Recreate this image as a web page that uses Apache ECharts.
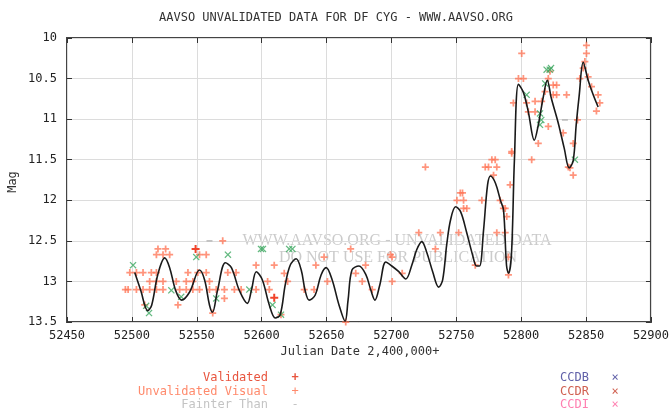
<!DOCTYPE html>
<html>
<head>
<meta charset="utf-8">
<script src="https://cdn.jsdelivr.net/npm/echarts@6/dist/echarts.min.js"></script>
<style>
html,body{margin:0;padding:0;background:#fff;}
#chart{width:672px;height:410px;}
</style>
</head>
<body>
<div id="chart"></div>
<script>
// ---- data ----
const xTicksMin = 52450, xTicksMax = 52900, xTickStep = 50;
const yTicksMin = 10, yTicksMax = 13.5, yTickStep = 0.5;

// fitted light curve (black line): [JD, mag]
const curve = [
 [52502.2,12.89],[52506.8,13.11],[52512.2,13.36],[52515.3,13.29],[52519.9,12.92],[52525.3,12.71],
 [52529.1,12.83],[52533.7,13.11],[52538.3,13.23],[52544.5,13.13],[52552.1,12.86],[52556,12.98],
 [52559.8,13.29],[52562.1,13.38],[52566,13.11],[52572.1,12.77],[52576.7,12.83],[52582.8,13.11],
 [52589,13.27],[52592.1,13.11],[52595.9,12.88],[52600.5,12.98],[52605.9,13.29],[52610.5,13.45],
 [52614.3,13.41],[52618.2,13.04],[52622,12.80],[52626.6,12.72],[52630.5,12.86],[52633.5,13.11],
 [52636.6,13.23],[52641.2,13.17],[52645.8,12.92],[52649.7,12.83],[52654.3,12.98],[52659.6,13.29],
 [52664.3,13.49],[52666.6,13.23],[52669.6,12.86],[52675,12.81],[52680.4,12.92],[52684.2,13.11],
 [52687.3,13.23],[52691.1,13.04],[52695.7,12.76],[52700.3,12.81],[52705.7,12.88],[52711.1,12.97],
 [52715.7,12.80],[52719.5,12.61],[52723.4,12.51],[52727.2,12.64],[52731.8,12.88],[52736.4,13.07],
 [52739.5,12.98],[52742.6,12.55],[52745.6,12.24],[52749.5,12.08],[52753.3,12.14],[52757.9,12.39],
 [52762.5,12.67],[52765.6,12.81],[52767.9,12.81],[52771,12.37],[52774.1,11.81],[52776.4,11.70],
 [52780.2,11.79],[52784,12.00],[52786.4,12.12],[52788.7,12.80],[52790.2,12.90],[52792.5,12.67],
 [52794.8,11.50],[52797.9,10.57],[52801.7,10.67],[52805.5,10.91],[52810.1,11.26],[52813.2,11.07],
 [52817,10.73],[52820.1,10.52],[52823.2,10.74],[52828.6,11.05],[52833.2,11.36],[52837,11.60],
 [52840.1,11.51],[52842.4,11.07],[52844.7,10.71],[52847.8,10.30],[52851.6,10.52],[52855.5,10.70],
 [52859.3,10.85]
];

// unvalidated visual observations
const visualObs = [
 [52495,13.1],[52497.1,13.1],[52498.4,12.89],[52503.5,12.89],[52508.6,12.89],[52515,12.89],[52518.9,12.89],
 [52503.5,13.1],[52508.6,13.1],[52513.7,13.1],[52518.9,13.1],[52524,13.1],
 [52513.7,13.0],[52518.9,13.0],[52524,13.0],[52534.2,13.0],[52541.9,13.0],[52547,13.0],[52559.8,13.0],
 [52509.9,13.29],[52535.5,13.29],[52562.3,13.39],[52571.3,13.21],
 [52520.1,12.6],[52526,12.6],[52570,12.5],
 [52518.9,12.67],[52524,12.67],[52529.1,12.67],[52552.1,12.67],[52557.3,12.67],
 [52543.2,12.89],[52550.8,12.89],[52557.3,12.89],[52573.9,12.89],[52580.3,12.89],
 [52536.8,13.1],[52541.9,13.1],[52547,13.1],[52552.1,13.1],[52559.8,13.1],[52565,13.1],[52571.3,13.1],
 [52579,13.1],[52584.2,13.1],[52595.7,13.1],[52595.7,12.8],
 [52609.7,12.8],[52604.6,13.0],[52605.9,13.1],[52614.9,13.41],[52617.4,12.9],[52620,13.0],
 [52641.8,12.8],[52648.1,12.7],[52650.7,13.0],[52632.8,13.1],[52640.4,13.1],[52668.6,12.6],
 [52680.1,12.8],[52677.5,13.0],[52685.2,13.1],[52664.8,13.5],[52699.3,12.67],[52700.6,13.0],[52672.5,12.9],
 [52726.2,11.59],[52753.1,11.91],[52754.8,11.91],[52750.5,12.0],[52755.6,12.0],[52755.6,12.1],[52758.1,12.1],
 [52772.3,11.59],[52777.4,11.5],[52780,11.5],[52774.8,11.59],[52781.2,11.59],[52778.7,11.69],[52769.7,12.0],
 [52783.8,12.0],[52786.3,12.1],[52787.7,12.1],[52788.9,12.2],[52781.2,12.4],[52787.7,12.4],[52791.5,11.81],
 [52792.7,11.42],[52790.2,12.7],[52790.2,12.92],[52721.1,12.4],[52737.7,12.4],[52751.8,12.4],[52733.9,12.6],
 [52708.3,12.9],[52700.5,12.7],[52764.6,12.8],
 [52800.4,10.19],[52797.9,10.5],[52801.7,10.5],[52794,10.8],[52804.2,10.8],[52805.5,10.91],[52810.7,10.78],
 [52810.7,10.91],[52815.8,10.78],[52818.4,10.66],[52820.9,10.5],[52822.2,10.41],[52824.7,10.58],[52827.3,10.58],
 [52824.7,10.7],[52827.3,10.7],[52835,10.7],[52820.9,11.09],[52808.1,11.5],[52792.7,11.4],[52813.2,11.3],
 [52832.4,11.17],[52840.1,11.3],[52843.4,11.01],[52836.3,11.59],[52840.1,11.69],[52837.6,11.6],[52845.2,10.5],
 [52847.8,10.37],[52849.1,10.29],[52850.3,10.19],[52850.3,10.09],[52854.2,10.6],[52859.3,10.7],[52860.6,10.8],
 [52858,10.9],[52851.6,10.48]
];

// validated observations
const validatedObs = [[52549.1,12.6],[52609.7,13.2]];

// CCD V observations (green crosses)
const ccdvObs = [
 [52500.9,12.8],[52530.4,13.11],[52513.2,13.39],[52511,13.3],[52549.6,12.7],[52574,12.67],[52538,13.19],
 [52565,13.21],[52590.5,13.1],[52599.5,12.6],[52601,12.6],[52621.2,12.6],[52623.7,12.6],[52608.4,13.29],
 [52614.9,13.41],[52804.2,10.7],[52814.5,10.93],[52815.5,11.01],[52814.5,11.07],[52819.6,10.39],
 [52822,10.39],[52823,10.37],[52818.5,10.56],[52841.4,11.5]
];

// fainter-than observations
const fainterObs = [[52559.8,12.5],[52833.7,11.01]];

// ---- chart ----
const mono = '"DejaVu Sans Mono", "Liberation Mono", monospace';
const plusPath = 'path://M3,0H5V3H8V5H5V8H3V5H0V3H3Z';
const crossPath = 'path://M1,0L4,3L7,0L8,1L5,4L8,7L7,8L4,5L1,8L0,7L3,4L0,1Z';

const chart = echarts.init(document.getElementById('chart'), null, {renderer: 'canvas'});
const axisBase = {
  type: 'value',
  axisLine: {show: false},
  axisTick: {show: true, inside: true, length: 5, lineStyle: {color: '#333', width: 1}},
};
const option = {
  animation: false,
  backgroundColor: '#fff',
  grid: {left: 67, top: 38, right: 19, bottom: 88, show: true, borderColor: '#444', borderWidth: 2, backgroundColor: 'transparent'},
  xAxis: [
    Object.assign({}, axisBase, {
      min: xTicksMin, max: xTicksMax, interval: xTickStep, position: 'bottom',
      axisLabel: {fontFamily: mono, fontSize: 12, color: '#222', margin: 8, formatter: v => String(v)},
      splitLine: {show: true, lineStyle: {color: '#dcdcdc', width: 1}}
    }),
    Object.assign({}, axisBase, {
      min: xTicksMin, max: xTicksMax, interval: xTickStep, position: 'top',
      axisLabel: {show: false}, splitLine: {show: false}
    })
  ],
  yAxis: [
    Object.assign({}, axisBase, {
      min: yTicksMin, max: yTicksMax, interval: yTickStep, inverse: true, position: 'left',
      axisLabel: {fontFamily: mono, fontSize: 12, color: '#222', margin: 10, formatter: v => String(v)},
      splitLine: {show: true, lineStyle: {color: '#dcdcdc', width: 1}}
    }),
    Object.assign({}, axisBase, {
      min: yTicksMin, max: yTicksMax, interval: yTickStep, inverse: true, position: 'right',
      axisLabel: {show: false}, splitLine: {show: false}
    })
  ],
  graphic: [
    {type: 'text', left: 'center', top: 12, style: {text: 'AAVSO UNVALIDATED DATA FOR DF CYG - WWW.AAVSO.ORG', font: '12px ' + mono, fill: '#333'}},
    {type: 'text', x: 360, y: 352, style: {text: 'Julian Date 2,400,000+', font: '12px ' + mono, fill: '#333', align: 'center', verticalAlign: 'middle'}},
    {type: 'text', x: 13, y: 182, rotation: Math.PI / 2, style: {text: 'Mag', font: '12px ' + mono, fill: '#333', align: 'center', verticalAlign: 'middle'}},
    {type: 'text', x: 397, y: 241, z: 0, style: {text: 'WWW.AAVSO.ORG - UNVALIDATED DATA', font: '16px "Liberation Serif", serif', fill: 'rgba(160,160,160,0.55)', align: 'center', verticalAlign: 'middle'}},
    {type: 'text', x: 398, y: 258, z: 0, style: {text: 'DO NOT USE FOR PUBLICATION', font: '16px "Liberation Serif", serif', fill: 'rgba(160,160,160,0.55)', align: 'center', verticalAlign: 'middle'}},
    // legend
    {type: 'text', x: 268, y: 378, style: {text: 'Validated', font: '12px ' + mono, fill: '#e8553f', align: 'right', verticalAlign: 'middle'}},
    {type: 'text', x: 295, y: 378, style: {text: '+', font: 'bold 12px ' + mono, fill: '#e8553f', align: 'center', verticalAlign: 'middle'}},
    {type: 'text', x: 268, y: 392, style: {text: 'Unvalidated Visual', font: '12px ' + mono, fill: '#ff8a6c', align: 'right', verticalAlign: 'middle'}},
    {type: 'text', x: 295, y: 392, style: {text: '+', font: '12px ' + mono, fill: '#ff8a6c', align: 'center', verticalAlign: 'middle'}},
    {type: 'text', x: 268, y: 405, style: {text: 'Fainter Than', font: '12px ' + mono, fill: '#c4c4c4', align: 'right', verticalAlign: 'middle'}},
    {type: 'text', x: 295, y: 405, style: {text: '-', font: '12px ' + mono, fill: '#c4c4c4', align: 'center', verticalAlign: 'middle'}},
    {type: 'text', x: 589, y: 378, style: {text: 'CCDB', font: '12px ' + mono, fill: '#6060a8', align: 'right', verticalAlign: 'middle'}},
    {type: 'text', x: 615, y: 378, style: {text: '×', font: '12px ' + mono, fill: '#6060a8', align: 'center', verticalAlign: 'middle'}},
    {type: 'text', x: 589, y: 392, style: {text: 'CCDR', font: '12px ' + mono, fill: '#d06050', align: 'right', verticalAlign: 'middle'}},
    {type: 'text', x: 615, y: 392, style: {text: '×', font: '12px ' + mono, fill: '#d06050', align: 'center', verticalAlign: 'middle'}},
    {type: 'text', x: 589, y: 405, style: {text: 'CCDI', font: '12px ' + mono, fill: '#ff7fb0', align: 'right', verticalAlign: 'middle'}},
    {type: 'text', x: 615, y: 405, style: {text: '×', font: '12px ' + mono, fill: '#ff7fb0', align: 'center', verticalAlign: 'middle'}}
  ],
  series: [
    {type: 'scatter', name: 'Fainter Than', data: fainterObs, symbol: 'rect', symbolSize: [6, 1.5], itemStyle: {color: '#aaaaaa'}, z: 2},
    {type: 'scatter', name: 'Unvalidated Visual', data: visualObs, symbol: plusPath, symbolSize: 7, itemStyle: {color: '#ff7050', opacity: 0.75}, z: 3},
    {type: 'scatter', name: 'Validated', data: validatedObs, symbol: plusPath, symbolSize: 8, itemStyle: {color: '#f03a20', opacity: 0.95}, z: 3},
    {type: 'scatter', name: 'CCDV', data: ccdvObs, symbol: crossPath, symbolSize: 7, itemStyle: {color: '#3ca860', opacity: 0.8}, z: 4},
    {type: 'line', name: 'Fit', data: curve, smooth: 0.35, showSymbol: false, symbol: 'none',
     lineStyle: {color: '#1a1a1a', width: 1.6}, z: 5}
  ]
};
chart.setOption(option);
</script>
</body>
</html>
